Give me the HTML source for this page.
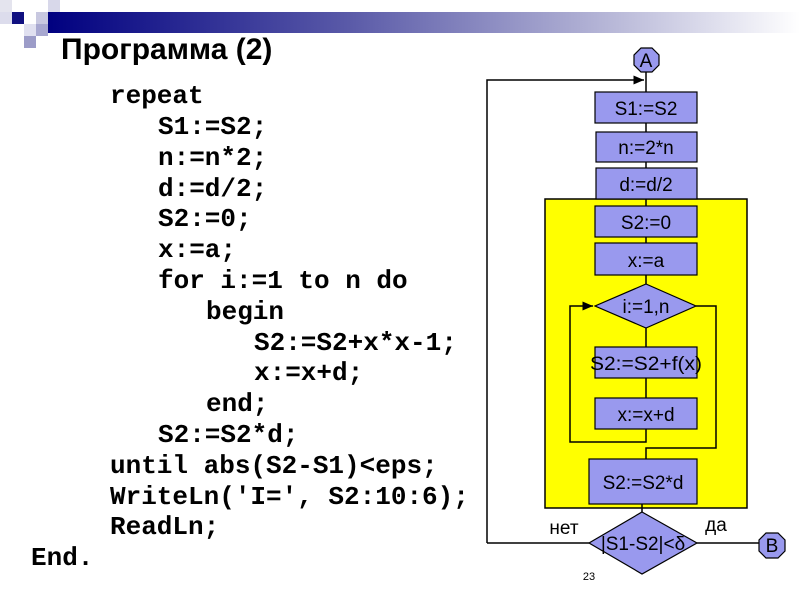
<!DOCTYPE html>
<html><head><meta charset="utf-8"><style>
body{margin:0;width:800px;height:600px;background:#fff;overflow:hidden;position:relative;font-family:"Liberation Sans",sans-serif}
.sq{position:absolute;width:12px;height:12px}
#bar{position:absolute;left:48px;top:12px;width:752px;height:21px;background:linear-gradient(to right,#000080,#5a5aa8 40%,#b8b8d8 75%,#fff)}
h1{position:absolute;left:61px;top:32px;margin:0;font-size:30px;font-weight:bold;line-height:36px}
.c{position:absolute;font-family:"Liberation Mono",monospace;font-weight:bold;font-size:26px;line-height:30px;white-space:pre}
</style></head><body>
<div class="sq" style="left:0;top:0;background:#e4e4ee"></div>
<div class="sq" style="left:48px;top:0;background:#d8d8ea"></div>
<div class="sq" style="left:0;top:12px;background:#dcdcec"></div>
<div class="sq" style="left:12px;top:12px;background:#101080"></div>
<div class="sq" style="left:36px;top:12px;background:#c8c8e0"></div>
<div class="sq" style="left:24px;top:24px;background:#e0e0f0"></div>
<div class="sq" style="left:36px;top:24px;background:#a8a8d0"></div>
<div class="sq" style="left:24px;top:36px;background:#9c9cc8"></div>
<div id="bar"></div>
<h1>Программа (2)</h1>
<div class="c" style="left:110px;top:81px">repeat</div>
<div class="c" style="left:158px;top:112px">S1:=S2;</div>
<div class="c" style="left:158px;top:143px">n:=n*2;</div>
<div class="c" style="left:158px;top:174px">d:=d/2;</div>
<div class="c" style="left:158px;top:204px">S2:=0;</div>
<div class="c" style="left:158px;top:235px">x:=a;</div>
<div class="c" style="left:158px;top:266px">for i:=1 to n do</div>
<div class="c" style="left:206px;top:297px">begin</div>
<div class="c" style="left:254px;top:328px">S2:=S2+x*x-1;</div>
<div class="c" style="left:254px;top:358px">x:=x+d;</div>
<div class="c" style="left:206px;top:389px">end;</div>
<div class="c" style="left:158px;top:420px">S2:=S2*d;</div>
<div class="c" style="left:110px;top:451px">until abs(S2-S1)&lt;eps;</div>
<div class="c" style="left:110px;top:482px">WriteLn('I=', S2:10:6);</div>
<div class="c" style="left:110px;top:512px">ReadLn;</div>
<div class="c" style="left:31px;top:543px">End.</div>
<svg width="800" height="600" style="position:absolute;left:0;top:0" font-family="Liberation Sans,sans-serif" font-size="19">
<defs><marker id="ar" markerWidth="8" markerHeight="8" refX="7" refY="4" orient="auto"><path d="M0,1 L7,4 L0,7z" fill="#000"/></marker></defs>
<rect x="545" y="199" width="202" height="309" fill="#ffff00" stroke="#000" stroke-width="1.5"/>
<g stroke="#000" stroke-width="1.5" fill="none">
<line x1="646" y1="72" x2="646" y2="92"/>
<polyline points="487,543 487,80 644,80" marker-end="url(#ar)"/>
<line x1="646" y1="123" x2="646" y2="347"/>
<line x1="646" y1="378" x2="646" y2="398"/>
<polyline points="646,429 646,442 570,442 570,306 593,306" marker-end="url(#ar)"/>
<polyline points="696,306 716,306 716,448 646,448 646,459"/>
<line x1="642" y1="504" x2="642" y2="512"/>
<line x1="487" y1="543" x2="589" y2="543"/>
<line x1="697" y1="543" x2="759" y2="543"/>
</g>
<g fill="#9999ee" stroke="#000" stroke-width="1.2">
<polygon points="641,48 652,48 659,55 659,65 652,72 641,72 634,65 634,55"/>
<rect x="595" y="92" width="102" height="31"/>
<rect x="596" y="132" width="101" height="30"/>
<rect x="596" y="168" width="101" height="31"/>
<rect x="595" y="206" width="102" height="31"/>
<rect x="595" y="243" width="102" height="32"/>
<polygon points="646,284 696,306 646,328 595,306"/>
<rect x="595" y="347" width="102" height="31"/>
<rect x="595" y="398" width="102" height="31"/>
<rect x="589" y="459" width="108" height="45"/>
<polygon points="642,512 697,543 642,574 589,543"/>
<polygon points="766,533 778,533 785,540 785,551 778,558 766,558 759,551 759,540"/>
</g>
<g text-anchor="middle" fill="#000">
<text x="646" y="67">A</text>
<text x="646" y="115">S1:=S2</text>
<text x="646" y="154">n:=2*n</text>
<text x="646" y="191">d:=d/2</text>
<text x="646" y="229">S2:=0</text>
<text x="646" y="267">x:=a</text>
<text x="646" y="313">i:=1,n</text>
<text x="646" y="370" textLength="112" lengthAdjust="spacingAndGlyphs">S2:=S2+f(x)</text>
<text x="646" y="421">x:=x+d</text>
<text x="643" y="489">S2:=S2*d</text>
<text x="643" y="550">|S1-S2|&lt;δ</text>
<text x="772" y="552">B</text>
<text x="564" y="534">нет</text>
<text x="716" y="531">да</text>
<text x="589" y="580" font-size="11">23</text>
</g>
</svg>
</body></html>
